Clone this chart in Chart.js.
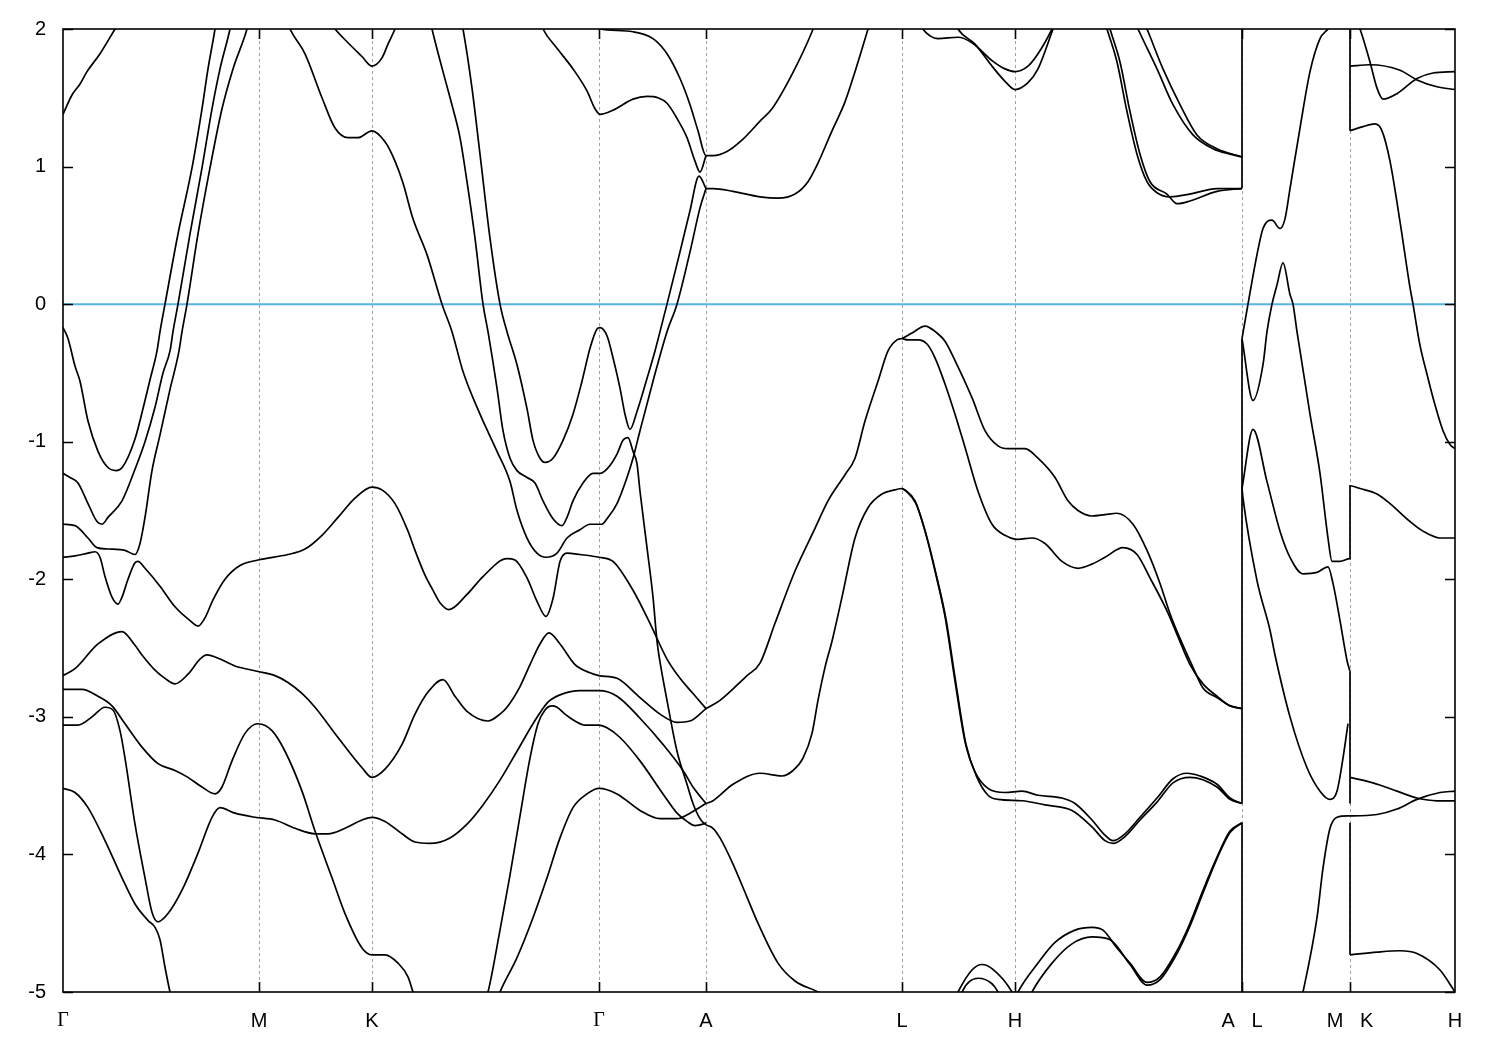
<!DOCTYPE html>
<html>
<head>
<meta charset="utf-8">
<script src="https://cdn.jsdelivr.net/npm/chart.js@4.4.1/dist/chart.umd.min.js"></script>
<style>
  html, body { margin: 0; padding: 0; background: #fff; }
  #wrap { width: 1500px; height: 1050px; }
</style>
</head>
<body>
<div id="wrap"><canvas id="bands" width="1500" height="1050"></canvas></div>
<script>
// k-path positions of the high-symmetry points and their labels
const symK = [0, 1.96, 3.09, 5.36, 6.43, 8.39, 9.52, 11.79, 12.87, 13.92];
const symLabels = ["Γ", "M", "K", "Γ", "A", "L", "H", "A   L", "M   K", "H"];
const energyTicks = [-5, -4, -3, -2, -1, 0, 1, 2];
const fermiLevel = [[0, 0], [13.92, 0]];

// bands, [k, E (eV)]
// ---- Γ - M - K - Γ - A
const band01 = [[0,1.38],[0.09,1.52],[0.17,1.6],[0.24,1.69],[0.37,1.82],[0.52,2.0],[0.62,2.12]];
const band02 = [[0,-0.17],[0.05,-0.25],[0.12,-0.45],[0.17,-0.56],[0.25,-0.85],[0.35,-1.07],[0.44,-1.18],[0.53,-1.21],[0.59,-1.19],[0.72,-0.98],[0.82,-0.7],[0.87,-0.55],[0.94,-0.34],[0.97,-0.2],[1.02,0],[1.15,0.51],[1.29,0.99],[1.39,1.42],[1.45,1.71],[1.52,2.0],[1.55,2.15]];
const band03 = [[0,-1.23],[0.07,-1.26],[0.15,-1.30],[0.25,-1.45],[0.34,-1.58],[0.39,-1.60],[0.45,-1.55],[0.59,-1.43],[0.72,-1.2],[0.82,-1.0],[0.92,-0.75],[1.0,-0.5],[1.07,-0.34],[1.10,-0.2],[1.15,0],[1.27,0.51],[1.39,0.99],[1.49,1.42],[1.57,1.71],[1.67,2.0],[1.71,2.15]];
const band04 = [[0,-1.60],[0.12,-1.61],[0.25,-1.70],[0.34,-1.77],[0.45,-1.78],[0.62,-1.79],[0.72,-1.82],[0.77,-1.74],[0.82,-1.55],[0.89,-1.21],[0.97,-0.95],[1.07,-0.62],[1.16,-0.34],[1.19,-0.2],[1.24,0],[1.35,0.51],[1.47,0.99],[1.59,1.42],[1.70,1.71],[1.84,2.0],[1.88,2.12]];
const band05 = [[0,-1.84],[0.12,-1.83],[0.25,-1.81],[0.32,-1.80],[0.37,-1.84],[0.42,-1.98],[0.49,-2.13],[0.55,-2.18],[0.59,-2.13],[0.65,-2.0],[0.72,-1.88],[0.75,-1.87],[0.82,-1.92],[0.97,-2.05],[1.12,-2.2],[1.27,-2.3],[1.35,-2.34],[1.42,-2.28],[1.50,-2.15],[1.62,-2.0],[1.77,-1.9],[1.95,-1.86],[2.25,-1.82],[2.42,-1.78],[2.59,-1.68],[2.75,-1.55],[2.92,-1.41],[3.09,-1.33],[3.19,-1.35],[3.32,-1.45],[3.45,-1.65],[3.52,-1.79],[3.62,-1.97],[3.70,-2.08],[3.77,-2.17],[3.86,-2.22],[4.04,-2.11],[4.20,-1.98],[4.44,-1.85],[4.52,-1.86],[4.64,-1.99],[4.74,-2.16],[4.83,-2.27],[4.90,-2.14],[4.97,-1.87],[5.04,-1.81],[5.17,-1.82],[5.36,-1.84],[5.50,-1.87],[5.70,-2.08],[5.87,-2.32],[6.04,-2.58],[6.17,-2.72],[6.30,-2.83],[6.43,-2.94]];
const band06 = [[2.22,2.1],[2.27,2.0],[2.42,1.82],[2.59,1.50],[2.72,1.28],[2.85,1.21],[2.95,1.21],[3.09,1.26],[3.22,1.18],[3.32,1.04],[3.40,0.88],[3.50,0.62],[3.64,0.36],[3.79,0],[3.89,-0.2],[4.00,-0.49],[4.17,-0.80],[4.34,-1.07],[4.47,-1.29],[4.54,-1.50],[4.64,-1.70],[4.74,-1.81],[4.83,-1.84],[4.94,-1.81],[5.04,-1.70],[5.17,-1.64],[5.27,-1.60],[5.39,-1.60],[5.44,-1.56],[5.54,-1.45],[5.64,-1.26],[5.70,-1.12],[5.77,-0.92],[5.90,-0.56],[6.04,-0.2],[6.14,0],[6.27,0.38],[6.37,0.70],[6.43,0.84]];
const band07 = [[2.67,2.05],[2.72,2.0],[2.85,1.90],[2.99,1.80],[3.09,1.73],[3.19,1.79],[3.25,1.89],[3.32,2.0],[3.35,2.06]];
const band08 = [[3.66,2.1],[3.69,2.0],[3.80,1.69],[3.90,1.42],[3.97,1.21],[4.04,0.89],[4.12,0.48],[4.20,0],[4.25,-0.2],[4.34,-0.61],[4.40,-0.92],[4.47,-1.12],[4.54,-1.21],[4.64,-1.26],[4.72,-1.30],[4.80,-1.43],[4.90,-1.56],[4.99,-1.61],[5.04,-1.55],[5.10,-1.43],[5.20,-1.30],[5.30,-1.23],[5.37,-1.23],[5.45,-1.19],[5.54,-1.09],[5.60,-0.99],[5.65,-0.97],[5.70,-1.07],[5.74,-1.16],[5.77,-1.36],[5.84,-1.77],[5.90,-2.13],[5.94,-2.45],[5.97,-2.6],[6.04,-2.88],[6.14,-3.25],[6.24,-3.49],[6.30,-3.63],[6.37,-3.74],[6.42,-3.78],[6.50,-3.81],[6.57,-3.88],[6.70,-4.07],[6.84,-4.31],[6.95,-4.5],[7.15,-4.79],[7.32,-4.92],[7.55,-5.0],[7.67,-5.06]];
const band09 = [[3.97,2.1],[4.00,2.0],[4.09,1.57],[4.17,1.09],[4.27,0.48],[4.37,0],[4.44,-0.2],[4.54,-0.44],[4.64,-0.76],[4.70,-0.99],[4.77,-1.12],[4.82,-1.15],[4.90,-1.12],[5.00,-0.99],[5.10,-0.80],[5.19,-0.56],[5.27,-0.32],[5.34,-0.18],[5.37,-0.17],[5.44,-0.23],[5.50,-0.39],[5.57,-0.61],[5.62,-0.80],[5.67,-0.91],[5.74,-0.78],[5.84,-0.54],[5.92,-0.34],[5.97,-0.2],[6.04,0],[6.17,0.38],[6.27,0.68],[6.36,0.93],[6.43,0.84]];
const band10 = [[4.75,2.1],[4.80,2.0],[4.94,1.86],[5.10,1.71],[5.24,1.55],[5.32,1.42],[5.37,1.38],[5.50,1.41],[5.70,1.49],[5.84,1.51],[5.95,1.50],[6.04,1.46],[6.14,1.35],[6.24,1.21],[6.32,1.04],[6.37,0.96],[6.43,1.08]];
const band11 = [[5.30,2.02],[5.37,2.0],[5.70,1.98],[5.90,1.93],[6.04,1.82],[6.17,1.64],[6.27,1.45],[6.35,1.26],[6.43,1.08],[6.50,1.08],[6.64,1.11],[6.80,1.20],[6.97,1.33],[7.09,1.42],[7.29,1.67],[7.49,1.98],[7.52,2.04]];
const band12 = [[6.43,0.84],[6.50,0.84],[6.70,0.82],[6.97,0.78],[7.15,0.77],[7.32,0.80],[7.45,0.89],[7.54,1.01],[7.69,1.26],[7.82,1.47],[7.92,1.69],[8.05,2.0],[8.09,2.1]];
const band13 = [[0,-2.70],[0.12,-2.65],[0.35,-2.47],[0.59,-2.38],[0.72,-2.48],[0.79,-2.55],[0.92,-2.66],[1.02,-2.72],[1.12,-2.76],[1.25,-2.69],[1.37,-2.58],[1.44,-2.55],[1.57,-2.58],[1.72,-2.63],[1.95,-2.67],[2.12,-2.70],[2.25,-2.75],[2.39,-2.83],[2.52,-2.93],[2.75,-3.15],[2.99,-3.37],[3.09,-3.44],[3.22,-3.38],[3.39,-3.20],[3.52,-2.98],[3.65,-2.82],[3.80,-2.73],[3.92,-2.85],[4.04,-2.96],[4.25,-3.03],[4.37,-2.98],[4.44,-2.93],[4.57,-2.78],[4.67,-2.62],[4.77,-2.47],[4.86,-2.39],[4.97,-2.47],[5.12,-2.62],[5.27,-2.68],[5.36,-2.70],[5.54,-2.72],[5.77,-2.86],[5.97,-2.98],[6.14,-3.04],[6.27,-3.03],[6.43,-2.94]];
const band14 = [[0,-2.80],[0.19,-2.80],[0.35,-2.85],[0.49,-2.92],[0.62,-3.05],[0.79,-3.22],[0.95,-3.34],[1.12,-3.39],[1.25,-3.44],[1.39,-3.51],[1.52,-3.56],[1.59,-3.51],[1.69,-3.32],[1.82,-3.12],[1.95,-3.05],[2.09,-3.10],[2.22,-3.25],[2.39,-3.54],[2.52,-3.83],[2.69,-4.17],[2.82,-4.43],[2.99,-4.68],[3.09,-4.73],[3.22,-4.73],[3.35,-4.79],[3.45,-4.89],[3.50,-5.0],[3.53,-5.06]];
const band15 = [[0,-3.06],[0.15,-3.06],[0.29,-3.0],[0.42,-2.93],[0.50,-2.95],[0.57,-3.10],[0.62,-3.30],[0.72,-3.78],[0.82,-4.17],[0.89,-4.42],[0.95,-4.49],[1.05,-4.43],[1.19,-4.26],[1.35,-3.99],[1.49,-3.73],[1.57,-3.66],[1.72,-3.70],[1.92,-3.73],[2.12,-3.75],[2.32,-3.81],[2.52,-3.85],[2.65,-3.85],[2.82,-3.81],[2.99,-3.75],[3.09,-3.73],[3.22,-3.76],[3.39,-3.85],[3.52,-3.91],[3.67,-3.92],[3.87,-3.88],[4.04,-3.78],[4.20,-3.64],[4.37,-3.46],[4.54,-3.25],[4.70,-3.05],[4.84,-2.90],[4.89,-2.87],[4.97,-2.84],[5.17,-2.81],[5.36,-2.81],[5.54,-2.85],[5.77,-3.01],[6.00,-3.20],[6.20,-3.39],[6.30,-3.51],[6.43,-3.63]];
const band16 = [[0,-3.52],[0.12,-3.55],[0.25,-3.66],[0.42,-3.90],[0.59,-4.17],[0.72,-4.36],[0.85,-4.48],[0.92,-4.53],[0.97,-4.62],[1.02,-4.82],[1.07,-5.0],[1.09,-5.06]];
const band17 = [[4.22,-5.06],[4.25,-5.0],[4.37,-4.55],[4.47,-4.15],[4.57,-3.72],[4.67,-3.30],[4.75,-3.05],[4.82,-2.95],[4.89,-2.92],[4.94,-2.93],[5.02,-2.98],[5.12,-3.03],[5.22,-3.06],[5.36,-3.06],[5.44,-3.08],[5.57,-3.15],[5.77,-3.32],[6.00,-3.56],[6.14,-3.70],[6.24,-3.76],[6.32,-3.79],[6.40,-3.78],[6.43,-3.77]];
const band18 = [[4.34,-5.06],[4.37,-5.0],[4.54,-4.75],[4.70,-4.46],[4.84,-4.17],[4.97,-3.88],[5.10,-3.66],[5.24,-3.56],[5.36,-3.52],[5.54,-3.56],[5.77,-3.68],[5.97,-3.74],[6.14,-3.74],[6.27,-3.70],[6.43,-3.63]];

// ---- A - L - H - A
const band19 = [[6.43,-2.94],[6.57,-2.88],[6.84,-2.70],[6.97,-2.61],[7.12,-2.32],[7.32,-1.94],[7.52,-1.63],[7.65,-1.43],[7.82,-1.24],[7.92,-1.12],[8.02,-0.85],[8.15,-0.56],[8.25,-0.34],[8.34,-0.26],[8.39,-0.25],[8.49,-0.21],[8.62,-0.16],[8.74,-0.21],[8.82,-0.27],[8.92,-0.41],[9.09,-0.68],[9.22,-0.92],[9.35,-1.03],[9.45,-1.05],[9.62,-1.05],[9.75,-1.12],[9.92,-1.26],[10.05,-1.43],[10.15,-1.50],[10.29,-1.54],[10.42,-1.53],[10.54,-1.52],[10.70,-1.60],[10.84,-1.79],[10.97,-2.03],[11.07,-2.25],[11.17,-2.43],[11.30,-2.64],[11.40,-2.79],[11.54,-2.86],[11.67,-2.92],[11.79,-2.94]];
const band20 = [[8.39,-0.25],[8.45,-0.26],[8.55,-0.26],[8.64,-0.29],[8.72,-0.39],[8.82,-0.58],[8.92,-0.80],[9.02,-1.04],[9.15,-1.36],[9.29,-1.60],[9.42,-1.68],[9.55,-1.71],[9.69,-1.70],[9.82,-1.74],[9.99,-1.87],[10.15,-1.92],[10.29,-1.89],[10.42,-1.84],[10.60,-1.77],[10.74,-1.82],[10.87,-1.99],[11.04,-2.23],[11.14,-2.40],[11.27,-2.62],[11.40,-2.76],[11.54,-2.85],[11.67,-2.92],[11.79,-2.94]];
const band21 = [[6.43,-3.63],[6.50,-3.61],[6.70,-3.49],[6.97,-3.41],[7.19,-3.43],[7.30,-3.39],[7.40,-3.30],[7.49,-3.12],[7.55,-2.88],[7.62,-2.64],[7.69,-2.45],[7.79,-2.13],[7.92,-1.70],[8.05,-1.48],[8.19,-1.38],[8.32,-1.35],[8.39,-1.34],[8.42,-1.35],[8.52,-1.43],[8.62,-1.65],[8.72,-1.94],[8.82,-2.27],[8.92,-2.74],[9.02,-3.18],[9.12,-3.40],[9.25,-3.52],[9.42,-3.55],[9.59,-3.54],[9.75,-3.57],[9.99,-3.59],[10.12,-3.63],[10.29,-3.75],[10.42,-3.86],[10.50,-3.90],[10.62,-3.85],[10.77,-3.73],[10.94,-3.59],[11.10,-3.45],[11.24,-3.41],[11.37,-3.43],[11.54,-3.49],[11.67,-3.59],[11.79,-3.63]];
const band22 = [[8.39,-1.34],[8.43,-1.36],[8.53,-1.45],[8.63,-1.67],[8.73,-1.96],[8.83,-2.29],[8.93,-2.76],[9.03,-3.20],[9.14,-3.44],[9.25,-3.57],[9.35,-3.60],[9.59,-3.61],[9.82,-3.64],[10.09,-3.68],[10.29,-3.80],[10.42,-3.90],[10.50,-3.92],[10.62,-3.87],[10.77,-3.75],[10.94,-3.62],[11.10,-3.48],[11.27,-3.44],[11.54,-3.51],[11.67,-3.60],[11.79,-3.63]];
const band23 = [[8.57,2.05],[8.60,2.0],[8.67,1.95],[8.75,1.93],[8.95,1.94],[9.09,1.90],[9.29,1.77],[9.42,1.71],[9.52,1.69],[9.65,1.73],[9.75,1.82],[9.89,2.0],[9.92,2.05]];
const band24 = [[8.92,2.05],[8.95,2.0],[9.12,1.89],[9.29,1.73],[9.42,1.62],[9.52,1.56],[9.65,1.61],[9.75,1.71],[9.90,2.0],[9.93,2.06]];
const band25 = [[8.92,-5.05],[8.95,-5.0],[9.09,-4.84],[9.19,-4.80],[9.29,-4.83],[9.49,-5.0],[9.52,-5.05]];
const band26 = [[8.97,-5.05],[8.99,-5.0],[9.15,-4.90],[9.29,-4.94],[9.35,-5.0],[9.38,-5.05]];
const band27 = [[9.52,-5.05],[9.55,-5.0],[9.75,-4.79],[9.92,-4.64],[10.12,-4.55],[10.29,-4.53],[10.40,-4.55],[10.54,-4.68],[10.67,-4.79],[10.84,-4.93],[10.97,-4.89],[11.14,-4.70],[11.27,-4.50],[11.40,-4.26],[11.54,-4.02],[11.67,-3.83],[11.79,-3.77]];
const band28 = [[9.66,-5.05],[9.69,-5.0],[9.89,-4.79],[10.09,-4.65],[10.29,-4.60],[10.47,-4.62],[10.67,-4.80],[10.84,-4.95],[10.97,-4.91],[11.14,-4.72],[11.27,-4.52],[11.40,-4.28],[11.54,-4.03],[11.67,-3.84],[11.79,-3.77]];
const band29 = [[10.42,2.05],[10.44,2.0],[10.54,1.76],[10.64,1.40],[10.74,1.09],[10.84,0.89],[10.94,0.81],[11.07,0.78],[11.27,0.80],[11.54,0.84],[11.79,0.84]];
const band30 = [[10.45,2.05],[10.47,2.0],[10.57,1.76],[10.67,1.40],[10.77,1.09],[10.87,0.89],[11.04,0.80],[11.14,0.73],[11.27,0.75],[11.54,0.82],[11.79,0.84]];
const band31 = [[10.72,2.05],[10.75,2.0],[10.94,1.71],[11.10,1.45],[11.30,1.23],[11.50,1.13],[11.67,1.09],[11.79,1.07]];
const band32 = [[10.81,2.05],[10.84,2.0],[11.00,1.71],[11.17,1.45],[11.34,1.23],[11.54,1.13],[11.79,1.07]];

// ---- L - M | K - H
const band33 = [[11.79,-0.25],[11.85,0],[11.94,0.36],[12.00,0.55],[12.09,0.61],[12.17,0.55],[12.22,0.62],[12.27,0.84],[12.37,1.28],[12.47,1.69],[12.57,1.93],[12.65,2.0],[12.70,2.05]];
const band34 = [[11.79,-0.25],[11.90,-0.70],[12.00,-0.44],[12.04,-0.2],[12.09,0],[12.14,0.14],[12.20,0.30],[12.27,0.07],[12.30,0],[12.34,-0.2],[12.47,-0.80],[12.57,-1.23],[12.65,-1.70],[12.69,-1.87],[12.77,-1.87],[12.87,-1.85],[12.87,-1.32],[12.97,-1.34],[13.14,-1.38],[13.27,-1.45],[13.47,-1.58],[13.60,-1.65],[13.77,-1.70],[13.92,-1.70]];
const band35 = [[11.79,-1.34],[11.90,-0.91],[12.04,-1.29],[12.17,-1.65],[12.27,-1.84],[12.40,-1.96],[12.54,-1.95],[12.65,-1.91],[12.70,-2.03],[12.77,-2.30],[12.84,-2.59],[12.87,-2.67]];
const band36 = [[11.79,-1.34],[11.80,-1.41],[11.94,-2.01],[12.07,-2.37],[12.12,-2.55],[12.27,-3.0],[12.44,-3.37],[12.57,-3.54],[12.67,-3.60],[12.74,-3.54],[12.80,-3.30],[12.85,-3.05]];
const band37 = [[12.38,-5.06],[12.40,-5.0],[12.54,-4.46],[12.60,-4.10],[12.67,-3.81],[12.74,-3.73],[12.85,-3.72],[12.90,-3.72],[13.14,-3.71],[13.34,-3.67],[13.54,-3.60],[13.77,-3.55],[13.92,-3.54]];
const band38 = [[12.87,-3.44],[13.10,-3.48],[13.34,-3.54],[13.54,-3.59],[13.74,-3.61],[13.92,-3.61]];
const band39 = [[12.87,-4.73],[13.14,-4.71],[13.37,-4.70],[13.54,-4.72],[13.77,-4.84],[13.92,-5.0]];
const band40 = [[12.87,1.73],[13.07,1.74],[13.37,1.70],[13.54,1.63],[13.74,1.58],[13.92,1.56]];
const band41 = [[12.94,2.05],[12.97,2.0],[13.07,1.76],[13.14,1.57],[13.20,1.49],[13.34,1.53],[13.54,1.64],[13.70,1.68],[13.92,1.69]];
const band42 = [[12.87,1.26],[13.00,1.29],[13.12,1.31],[13.19,1.26],[13.27,1.04],[13.37,0.60],[13.47,0.12],[13.50,0],[13.57,-0.3],[13.64,-0.51],[13.70,-0.68],[13.80,-0.92],[13.87,-1.02],[13.92,-1.05]];

// band jumps at the path breaks A|L and M|K, [E from, E to]
const jumpsAL = [[2.05, 0.84], [-0.25, -3.63], [-3.77, -5.05]];
const jumpsMK = [[2.05, 1.26], [-2.67, -3.63], [-3.77, -4.73]];

const allBands = [band01, band02, band03, band04, band05, band06, band07, band08, band09, band10,
  band11, band12, band13, band14, band15, band16, band17, band18, band19, band20,
  band21, band22, band23, band24, band25, band26, band27, band28, band29, band30,
  band31, band32, band33, band34, band35, band36, band37, band38, band39, band40,
  band41, band42];

const toPoints = arr => arr.map(p => ({ x: p[0], y: p[1] }));

const datasets = allBands.map(b => ({
    data: toPoints(b),
    showLine: true,
    borderColor: "#000",
    borderWidth: 1.7,
    pointRadius: 0,
    fill: false,
    cubicInterpolationMode: "monotone"
}));

function jumpSet(k, list) {
    return list.map(j => ({
        data: [{ x: k, y: j[0] }, { x: k, y: j[1] }],
        showLine: true,
        borderColor: "#000",
        borderWidth: 1.7,
        pointRadius: 0,
        tension: 0
    }));
}
datasets.push(...jumpSet(symK[7], jumpsAL));
datasets.push(...jumpSet(symK[8], jumpsMK));

// Fermi level, drawn under the bands
datasets.push({
    data: toPoints(fermiLevel),
    showLine: true,
    borderColor: "#56b4e9",
    borderWidth: 2,
    pointRadius: 0,
    tension: 0
});

// frame + inward tick marks, gnuplot style
const framePlugin = {
    id: "frame",
    afterDatasetsDraw(chart) {
        const { ctx, chartArea: a, scales } = chart;
        const xs = scales.x, ys = scales.y;
        ctx.save();
        ctx.strokeStyle = "#000";
        ctx.lineWidth = 1.6;
        ctx.beginPath();
        symK.forEach((k, i) => {
            if (i === 0 || i === symK.length - 1) return;
            const px = Math.round(xs.getPixelForValue(k)) + 0.5;
            ctx.moveTo(px, a.top); ctx.lineTo(px, a.top + 10);
            ctx.moveTo(px, a.bottom); ctx.lineTo(px, a.bottom - 10);
        });
        energyTicks.forEach(e => {
            const py = Math.round(ys.getPixelForValue(e)) + 0.5;
            ctx.moveTo(a.left, py); ctx.lineTo(a.left + 10, py);
            ctx.moveTo(a.right, py); ctx.lineTo(a.right - 10, py);
        });
        ctx.stroke();
        ctx.strokeRect(a.left, a.top, a.right - a.left, a.bottom - a.top);
        ctx.restore();
    }
};

new Chart(document.getElementById("bands").getContext("2d"), {
    type: "scatter",
    data: { datasets: datasets },
    options: {
        responsive: false,
        animation: false,
        events: [],
        layout: { padding: { top: 28, right: 45, left: 0, bottom: 0 } },
        plugins: { legend: { display: false }, tooltip: { enabled: false } },
        scales: {
            x: {
                type: "linear",
                min: symK[0],
                max: symK[symK.length - 1],
                afterBuildTicks: s => { s.ticks = symK.map(v => ({ value: v })); },
                afterFit: s => { s.height = 58; },
                grid: {
                    drawTicks: false,
                    lineWidth: 1,
                    color: c => (c.index === 0 || c.index === symK.length - 1) ? "rgba(0,0,0,0)" : "#a0a0a0"
                },
                border: { display: false, dash: [3, 3] },
                ticks: {
                    autoSkip: false,
                    maxRotation: 0,
                    padding: 17,
                    color: "#000",
                    font: c => ({
                        family: symLabels[c.index] === "Γ" ? "Liberation Serif" : "Liberation Sans",
                        size: 20
                    }),
                    callback: (v, i) => symLabels[i]
                }
            },
            y: {
                min: -5,
                max: 2,
                afterBuildTicks: s => { s.ticks = energyTicks.map(v => ({ value: v })); },
                afterFit: s => { s.width = 63; },
                grid: { display: false, drawTicks: false },
                border: { display: false },
                ticks: {
                    padding: 17,
                    color: "#000",
                    font: { family: "Liberation Sans", size: 20 }
                }
            }
        }
    },
    plugins: [framePlugin]
});
</script>
</body>
</html>
